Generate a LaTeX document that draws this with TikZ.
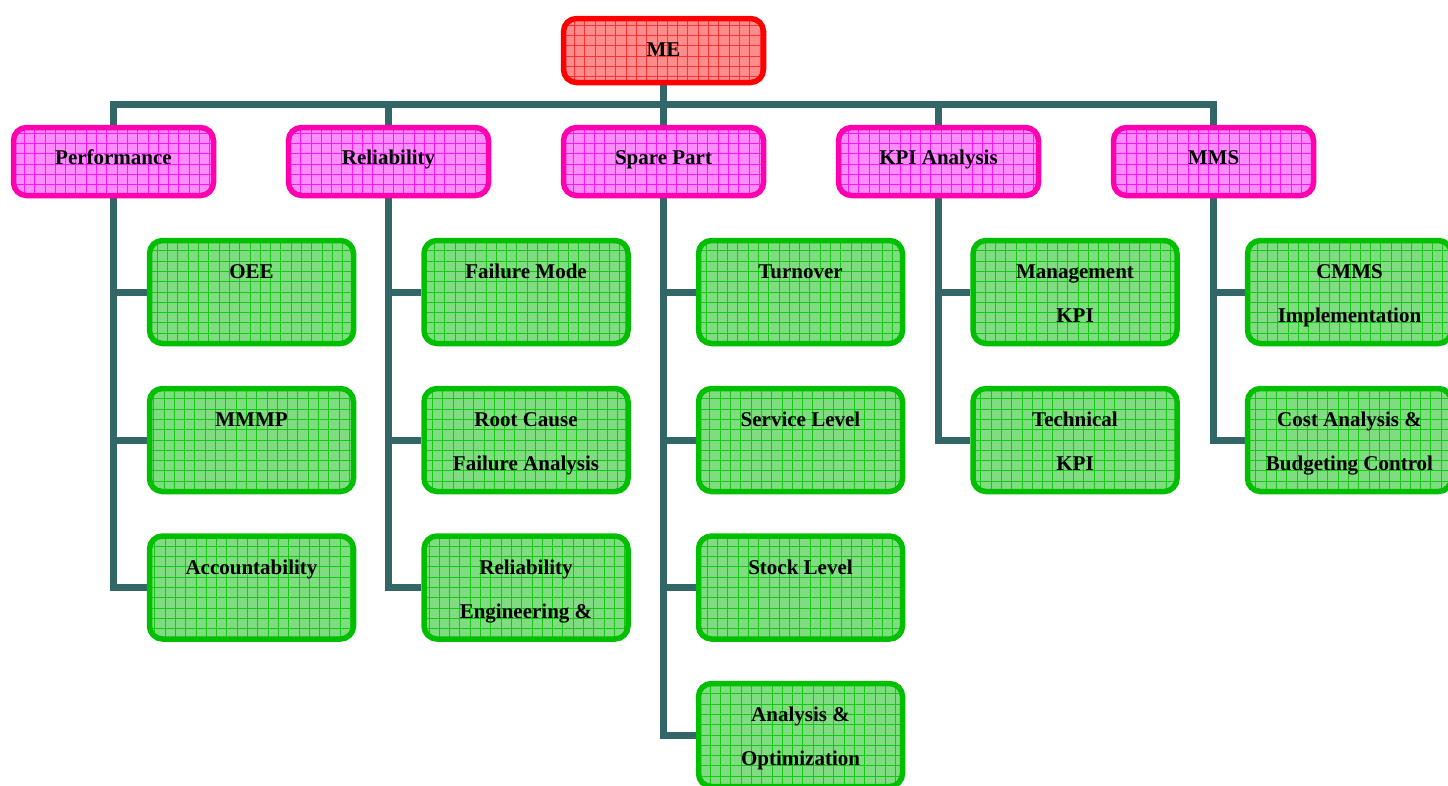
\documentclass[tikz,border=0pt]{standalone}
\usepackage{fontspec}
\setmainfont{Liberation Serif}
\usetikzlibrary{backgrounds}
\definecolor{connclr}{RGB}{51,102,102}
\definecolor{rootline}{RGB}{255,0,0}
\definecolor{rootfill}{RGB}{255,140,140}
\definecolor{rootgrid}{RGB}{255,50,50}
\definecolor{catline}{RGB}{255,0,175}
\definecolor{catfill}{RGB}{255,140,255}
\definecolor{catgrid}{RGB}{255,20,255}
\definecolor{itemline}{RGB}{0,190,0}
\definecolor{itemfill}{RGB}{128,220,128}
\definecolor{itemgrid}{RGB}{20,200,20}
\tikzset{
  gridbox/.style n args={3}{
    draw=#1, line width=5.5pt, fill=#2, rounded corners=13pt,
    path picture={\draw[#3, line width=0.7pt, step=10.3pt]
      (path picture bounding box.south west) grid (path picture bounding box.north east);}
  },
  rootbox/.style={gridbox={rootline}{rootfill}{rootgrid},
    minimum width=200pt, minimum height=64pt, inner sep=0pt,
    font=\bfseries\fontsize{21}{25}\selectfont, text height=14pt, text depth=3pt},
  catbox/.style={gridbox={catline}{catfill}{catgrid},
    minimum width=200pt, minimum height=68pt, inner sep=0pt,
    font=\bfseries\fontsize{21}{25}\selectfont, text height=14pt, text depth=9pt},
  itembox/.style={gridbox={itemline}{itemfill}{itemgrid},
    minimum width=204pt, minimum height=103pt, inner sep=0pt, align=center,
    font=\bfseries\fontsize{21}{44}\selectfont},
  conn/.style={draw=connclr, line width=7pt}
}
\newcommand{\twoline}[2]{#1\strut\\#2\strut}
\begin{document}
\begin{tikzpicture}[x=1pt,y=-1pt]
\useasboundingbox (0,0) rectangle (1448,785);

% root and category boxes
\node[rootbox] (me) at (663.5,50.5) {ME};

\node[catbox] (perf)  at (113.5,161.5)  {Performance};
\node[catbox] (rel)   at (388.5,161.5)  {Reliability};
\node[catbox] (spare) at (663.5,161.5)  {Spare Part};
\node[catbox] (kpi)   at (938.5,161.5)  {KPI Analysis};
\node[catbox] (mms)   at (1213.5,161.5) {MMS};

% item boxes
\node[itembox] (oee)   at (251.5,292)   {\twoline{OEE}{}};
\node[itembox] (mmmp)  at (251.5,440)   {\twoline{MMMP}{}};
\node[itembox] (acc)   at (251.5,587.5) {\twoline{Accountability}{}};

\node[itembox] (fm)    at (526,292)   {\twoline{Failure Mode}{}};
\node[itembox] (rcfa)  at (526,440)   {\twoline{Root Cause}{Failure Analysis}};
\node[itembox] (reng)  at (526,587.5) {\twoline{Reliability}{Engineering \&}};

\node[itembox] (turn)  at (800.5,292)   {\twoline{Turnover}{}};
\node[itembox] (serv)  at (800.5,440)   {\twoline{Service Level}{}};
\node[itembox] (stock) at (800.5,587.5) {\twoline{Stock Level}{}};
\node[itembox] (opt)   at (800.5,735)   {\twoline{Analysis \&}{Optimization}};

\node[itembox] (mkpi)  at (1075,292) {\twoline{Management}{KPI}};
\node[itembox] (tkpi)  at (1075,440) {\twoline{Technical}{KPI}};

\node[itembox] (cmms)  at (1349.5,292) {\twoline{CMMS}{Implementation}};
\node[itembox] (cost)  at (1349.5,440) {\twoline{Cost Analysis \&}{Budgeting Control}};

% connectors, behind the boxes
\begin{scope}[on background layer]
  \coordinate (bus) at (663.5,104);
  \draw[conn] (me.south) -- (spare.north);
  \draw[conn] (perf.north) |- (bus) -| (mms.north);
  \draw[conn] (rel.north) -- (rel.north |- bus);
  \draw[conn] (kpi.north) -- (kpi.north |- bus);

  \foreach \p/\c in {perf/oee, perf/mmmp, perf/acc,
                     rel/fm, rel/rcfa, rel/reng,
                     spare/turn, spare/serv, spare/stock, spare/opt,
                     kpi/mkpi, kpi/tkpi,
                     mms/cmms, mms/cost}
    \draw[conn] (\p.south) |- (\c.west);
\end{scope}
\end{tikzpicture}
\end{document}
